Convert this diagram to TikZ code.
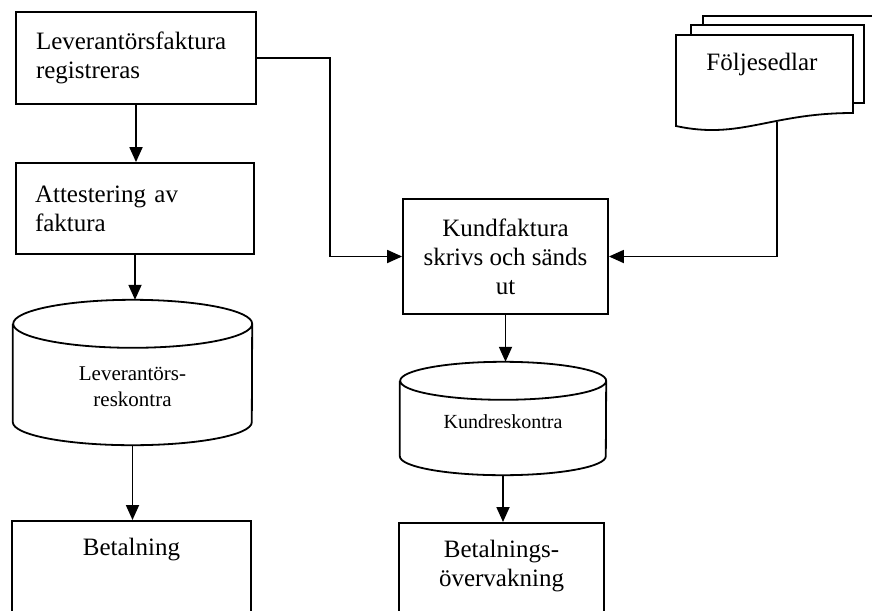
\documentclass[tikz,border=0pt]{standalone}
\usepackage{fontspec}
\setmainfont{Liberation Serif}
\usetikzlibrary{arrows.meta}

\tikzset{
    box/.style={draw, rectangle, line width=1.8pt, font=\fontsize{25}{29}\selectfont},
    drum/.style={rectangle, inner sep=0pt},
    outline/.style={line width=1.8pt},
    arr/.style={line width=1.8pt, -{Triangle[length=15pt, width=13pt]}},
}

\begin{document}
\begin{tikzpicture}[x=1pt, y=-1pt]
    \useasboundingbox (0, 0) rectangle (872, 610);

    % left column
    \node[box, minimum width=240pt, minimum height=92pt, text width=200pt, align=left] (reg) at (136, 58) {Leverantörsfaktura\\registreras};
    \node[box, minimum width=238pt, minimum height=91pt, text width=200pt, align=left] (att) at (135, 208.5) {Attestering av\\faktura};
    \node[drum, minimum width=239pt, minimum height=145pt] (lres) at (132.5, 372.5) {};
    \draw[outline] ([yshift=-24pt]lres.north west) -- ([yshift=23pt]lres.south west)
        arc[start angle=180, end angle=360, x radius=119.5pt, y radius=23pt]
        -- ([yshift=-24pt]lres.north east)
        arc[start angle=0, end angle=360, x radius=119.5pt, y radius=24pt];
    \node[align=center, font=\fontsize{21}{26}\selectfont] (lrestxt) at (132.5, 387) {Leverantörs-\\reskontra};
    \node[box, anchor=north, minimum width=239pt, inner ysep=17pt, text depth=100pt] (bet) at (131.5, 520) {Betalning};

    % middle column
    \node[box, minimum width=205pt, minimum height=115pt, align=center] (kund) at (505.5, 256.5) {Kundfaktura\\skrivs och sänds\\ut};
    \node[drum, minimum width=206pt, minimum height=113pt] (kres) at (503, 418.5) {};
    \draw[outline] ([yshift=-19pt]kres.north west) -- ([yshift=19pt]kres.south west)
        arc[start angle=180, end angle=360, x radius=103pt, y radius=19pt]
        -- ([yshift=-19pt]kres.north east)
        arc[start angle=0, end angle=360, x radius=103pt, y radius=19pt];
    \node[font=\fontsize{20}{24}\selectfont] (krestxt) at (503, 422) {Kundreskontra};
    \node[box, anchor=north, minimum width=205pt, inner ysep=17pt, text depth=100pt, align=center] (bov) at (501.5, 522) {Betalnings-\\övervakning};

    % document stack
    \draw[outline] (703, 40) -- (703, 16) -- (885, 16);
    \draw[outline, fill=white] (691, 25) rectangle (864, 103);
    \draw[outline, fill=white] (676, 35) -- (853, 35) -- (853, 113)
        .. controls (770, 113) and (740, 140) .. (676, 126) -- cycle;
    \node[font=\fontsize{25}{29}\selectfont] (doc) at (762, 64) {Följesedlar};
    \coordinate (docfoot) at (777, 122);

    \draw[arr] (reg.south) -- (reg.south |- att.north);
    \draw[arr] (att.south) -- (att.south |- lres.north);
    \draw[arr] (lres.south) -- (lres.south |- bet.north);
    \draw[arr] (kund.south) -- (kund.south |- kres.north);
    \draw[arr] (kres.south) -- (kres.south |- bov.north);
    \draw[arr] (reg.east) -- ++(73, 0) |- (kund.west);
    \draw[arr] (docfoot) |- (kund.east);
\end{tikzpicture}
\end{document}
